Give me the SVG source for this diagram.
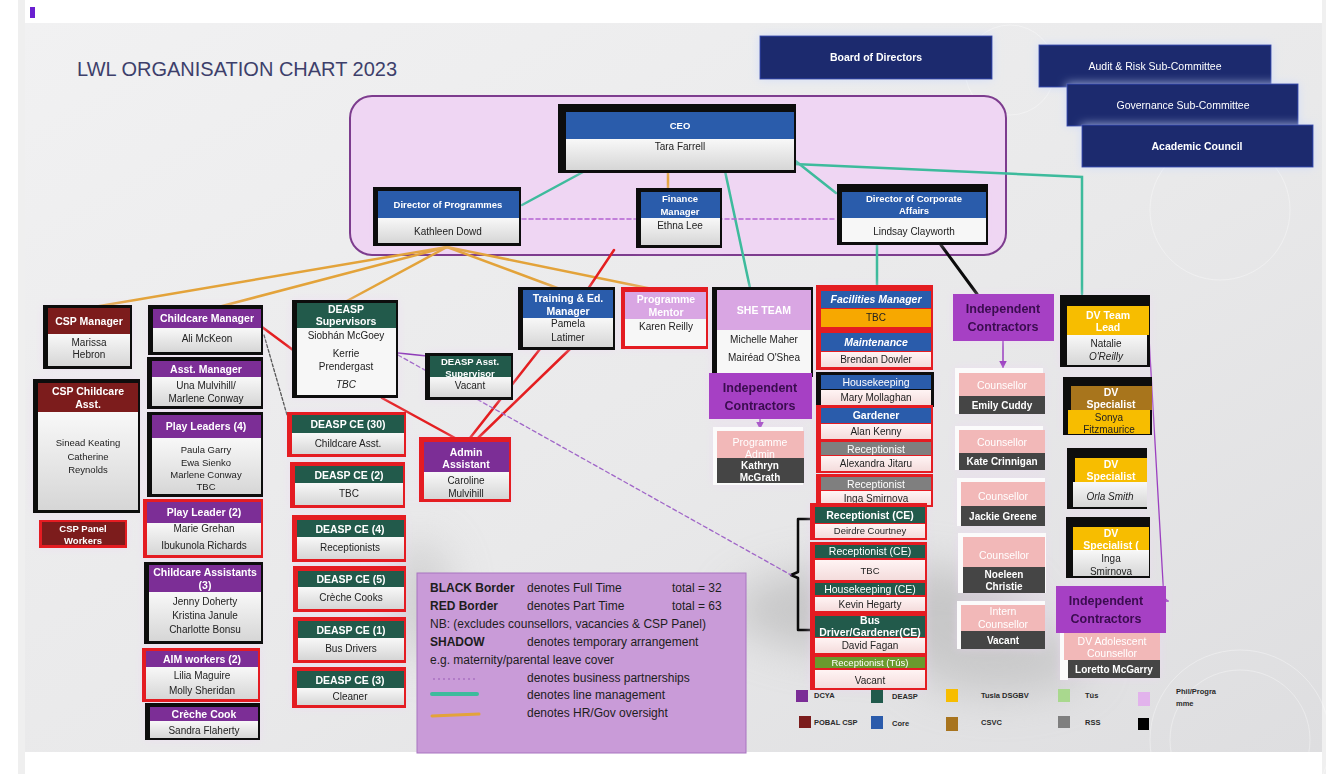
<svg xmlns="http://www.w3.org/2000/svg" width="1339" height="774" viewBox="0 0 1339 774">
<defs>
<linearGradient id="slideG" x1="0" y1="0" x2="1" y2="1"><stop offset="0" stop-color="#f1f1f2"/><stop offset="0.55" stop-color="#e9e9ea"/><stop offset="1" stop-color="#dedee0"/></linearGradient>
<linearGradient id="bodyG" x1="0" y1="0" x2="0" y2="1"><stop offset="0" stop-color="#f8f8f8"/><stop offset="1" stop-color="#d6d6d6"/></linearGradient>
<linearGradient id="pinkG" x1="0" y1="0" x2="0" y2="1"><stop offset="0" stop-color="#fff4f4"/><stop offset="1" stop-color="#f4dcdc"/></linearGradient>
<filter id="glow" x="-5%" y="-5%" width="110%" height="110%"><feGaussianBlur in="SourceAlpha" stdDeviation="4"/><feColorMatrix values="0 0 0 0 0.86 0 0 0 0 0.66 0 0 0 0 0.92 0 0 0 0.5 0"/><feMerge><feMergeNode/><feMergeNode in="SourceGraphic"/></feMerge></filter>
<filter id="blueGlow" x="-10%" y="-25%" width="120%" height="150%"><feGaussianBlur in="SourceAlpha" stdDeviation="5"/><feColorMatrix values="0 0 0 0 0.6 0 0 0 0 0.7 0 0 0 0 0.97 0 0 0 0.8 0"/><feMerge><feMergeNode/><feMergeNode in="SourceGraphic"/></feMerge></filter>
<filter id="haze" x="-50%" y="-50%" width="200%" height="200%"><feGaussianBlur stdDeviation="22"/></filter>
<marker id="ah" viewBox="0 0 10 10" refX="8" refY="5" markerWidth="5" markerHeight="5" orient="auto"><path d="M0,0L10,5L0,10z" fill="#9b3fc0"/></marker>
<style>
.hw{font-family:"Liberation Sans",Arial,sans-serif;font-weight:bold;font-size:10.5px;fill:#fff;text-anchor:middle}
.hs{font-family:"Liberation Sans",Arial,sans-serif;font-weight:bold;font-size:9.5px;fill:#fff;text-anchor:middle}
.hb{font-family:"Liberation Sans",Arial,sans-serif;font-weight:bold;font-size:10.5px;fill:#fff;text-anchor:middle}
.nm{font-family:"Liberation Sans",Arial,sans-serif;font-size:10px;fill:#222;text-anchor:middle}
.ns{font-family:"Liberation Sans",Arial,sans-serif;font-size:9.5px;fill:#222;text-anchor:middle}
.nw{font-family:"Liberation Sans",Arial,sans-serif;font-weight:bold;font-size:10px;fill:#fff;text-anchor:middle}
.ic{font-family:"Liberation Sans",Arial,sans-serif;font-weight:bold;font-size:12.5px;fill:#3a0c4f;text-anchor:middle}
.bd{font-family:"Liberation Sans",Arial,sans-serif;font-size:10.5px;fill:#fff;text-anchor:middle}
.bs{font-family:"Liberation Sans",Arial,sans-serif;font-size:9.5px;fill:#fff;text-anchor:middle}
.lg{font-family:"Liberation Sans",Arial,sans-serif;font-size:12px;fill:#1d1d1d}
.lb{font-family:"Liberation Sans",Arial,sans-serif;font-size:12px;font-weight:bold;fill:#1d1d1d}
.ck{font-family:"Liberation Sans",Arial,sans-serif;font-size:7.5px;font-weight:bold;fill:#2a2a2a}
.bk{fill:#0b0b0b}
.rd{fill:#e41e20}
.gb{fill:url(#bodyG)}
.pb{fill:url(#pinkG)}
.wb{fill:#f7f7f7}
.cblue{fill:#2b5bab}
.cpur{fill:#7b2d96}
.cred{fill:#7b1c1c}
.cgrn{fill:#215a4c}
.cyel{fill:#f7bd00}
.cpink{fill:#f2b8b8}
.cdark{fill:#454545}
.cic{fill:#a640c4}
.board{fill:#1c2a6e;stroke:#2e45b0;stroke-width:1}
.it{font-style:italic}
</style>
</defs>

<!-- page and slide background -->
<rect width="1339" height="774" fill="#ffffff"/>
<rect x="18" y="0" width="7" height="774" fill="#efefef"/>
<rect x="1322" y="0" width="4" height="774" fill="#f0f0f0"/>
<rect x="30" y="7" width="5" height="11" fill="#6a1fd0"/>
<rect x="25" y="23" width="1297" height="729" fill="url(#slideG)"/>
<g filter="url(#haze)" opacity="0.5">
<ellipse cx="880" cy="610" rx="150" ry="45" fill="#a9a9a9"/>
<ellipse cx="1000" cy="660" rx="90" ry="35" fill="#b0b0b0"/>
<ellipse cx="420" cy="600" rx="30" ry="60" fill="#b5b5b5"/>
</g>
<g fill="none" stroke="#ffffff" stroke-opacity="0.35" stroke-width="1">
<circle cx="1240" cy="740" r="70"/>
<circle cx="1240" cy="740" r="90"/>
<circle cx="1010" cy="70" r="45"/>
<circle cx="1220" cy="210" r="70"/>
</g>

<text x="77" y="76" font-family="'Liberation Sans',Arial,sans-serif" font-size="20" fill="#3d3f6b">LWL ORGANISATION CHART 2023</text>

<!-- senior management container -->
<rect x="350" y="96" width="656" height="159" rx="22" fill="#efd6f3" stroke="#7d3c8e" stroke-width="2"/>

<!-- governance boxes -->
<g id="board" filter="url(#blueGlow)"><rect class="board" x="760" y="36" width="232" height="43"/><text class="hb" x="876" y="61">Board of Directors</text></g>
<g id="audit" filter="url(#blueGlow)"><rect class="board" x="1039" y="45" width="232" height="42"/><text class="bd" x="1155" y="70">Audit &amp; Risk Sub-Committee</text></g>
<g id="governance" filter="url(#blueGlow)"><rect class="board" x="1067" y="84" width="231" height="42"/><text class="bd" x="1183" y="109">Governance Sub-Committee</text></g>
<g id="academic" filter="url(#blueGlow)"><rect class="board" x="1082" y="125" width="231" height="42"/><text class="hw" x="1197" y="150">Academic Council</text></g>

<!-- connectors -->
<g id="connectors" fill="none" stroke-linecap="round">
<!-- line management -->
<g stroke="#3dbb9c" stroke-width="2.5">
<line x1="583" y1="172" x2="522" y2="205"/>
<line x1="793" y1="159" x2="836" y2="193"/>
<line x1="725" y1="171" x2="750" y2="288"/>
<polyline points="794,164 1082,177 1082,294"/>
<line x1="877" y1="244" x2="877" y2="290"/>
</g>
<!-- HR / governance oversight -->
<g stroke="#e3a33a" stroke-width="2.5">
<line x1="668" y1="172" x2="668" y2="192"/>
<line x1="447" y1="247" x2="88" y2="308"/>
<line x1="447" y1="247" x2="207" y2="310"/>
<line x1="447" y1="247" x2="345" y2="302"/>
<line x1="447" y1="247" x2="568" y2="292"/>
<line x1="447" y1="247" x2="667" y2="292"/>
</g>
<!-- part-time reporting -->
<g stroke="#e41e20" stroke-width="2.5">
<line x1="614" y1="250" x2="588" y2="289"/>
<line x1="540" y1="349" x2="470" y2="438"/>
<line x1="570" y1="349" x2="478" y2="438"/>
<line x1="382" y1="398" x2="455" y2="438"/>
<line x1="262" y1="327" x2="293" y2="350"/>
</g>
<line x1="941" y1="245" x2="977" y2="294" stroke="#0b0b0b" stroke-width="3"/>
<path d="M811,519 H798 V572 L791,575 L798,578 V630 H811" stroke="#0b0b0b" stroke-width="2.5" stroke-linejoin="round"/>
<!-- business partnerships -->
<line x1="522" y1="219" x2="836" y2="219" stroke="#b463d2" stroke-width="1.6" stroke-dasharray="4,3"/>
<line x1="398" y1="355" x2="791" y2="575" stroke="#a066c8" stroke-width="1.3" stroke-dasharray="4,3"/>
<line x1="264" y1="335" x2="287" y2="415" stroke="#555" stroke-width="1.3" stroke-dasharray="3,2"/>
<line x1="398" y1="353" x2="427" y2="356" stroke="#8e3ab8" stroke-width="1.5"/>
<!-- contractor links -->
<line x1="760" y1="419" x2="760" y2="428" stroke="#9b3fc0" stroke-width="1.5" marker-end="url(#ah)"/>
<line x1="1003" y1="341" x2="1003" y2="367" stroke="#9b3fc0" stroke-width="1.5" marker-end="url(#ah)"/>
<path d="M1149,337 L1164,600 L1168,601" stroke="#9b3fc0" stroke-width="1.3" marker-end="url(#ah)"/>
</g>

<!-- nodes -->
<g id="nodes" filter="url(#glow)">

<g id="ceo"><rect class="bk" x="558" y="104" width="238" height="69"/><rect class="cblue" x="566" y="112" width="228" height="27"/><rect class="gb" x="566" y="139" width="228" height="31"/><text class="hs" x="680" y="129">CEO</text><text class="nm" x="680" y="150">Tara Farrell</text></g>

<g id="dir-programmes"><rect class="bk" x="373" y="187" width="148" height="59"/><rect class="cblue" x="378" y="191" width="141" height="27"/><rect class="gb" x="378" y="218" width="141" height="25"/><text class="hs" x="448" y="208">Director of Programmes</text><text class="nm" x="448" y="235">Kathleen Dowd</text></g>

<g id="finance"><rect class="bk" x="636" y="188" width="86" height="60"/><rect class="cblue" x="641" y="192" width="79" height="26"/><rect class="gb" x="641" y="218" width="79" height="27"/><text class="hs" x="680" y="202">Finance</text><text class="hs" x="680" y="215">Manager</text><text class="nm" x="680" y="229">Ethna Lee</text></g>

<g id="dir-corporate"><rect class="bk" x="837" y="184" width="151" height="61"/><rect class="cblue" x="842" y="192" width="144" height="26"/><rect class="wb" x="842" y="218" width="144" height="24"/><text class="hs" x="914" y="202">Director of Corporate</text><text class="hs" x="914" y="214">Affairs</text><text class="nm" x="914" y="235">Lindsay Clayworth</text></g>

<!-- childcare / CSP -->
<g id="csp-manager"><rect class="bk" x="43" y="305" width="89" height="64"/><rect class="cred" x="48" y="308" width="82" height="26"/><rect class="gb" x="48" y="334" width="82" height="32"/><text class="hw" x="89" y="325">CSP Manager</text><text class="nm" x="89" y="346">Marissa</text><text class="nm" x="89" y="358">Hebron</text></g>

<g id="csp-childcare-asst"><rect class="bk" x="33" y="379" width="107" height="134"/><rect class="cred" x="38" y="383" width="100" height="29"/><rect class="gb" x="38" y="412" width="100" height="98"/><text class="hw" x="88" y="395">CSP Childcare</text><text class="hw" x="88" y="408">Asst.</text><text class="ns" x="88" y="446">Sinead Keating</text><text class="ns" x="88" y="460">Catherine</text><text class="ns" x="88" y="473">Reynolds</text></g>

<g id="csp-panel"><rect class="rd" x="39" y="520" width="88" height="28"/><rect class="cred" x="42" y="522" width="83" height="23"/><text class="hs" x="83" y="532">CSP Panel</text><text class="hs" x="83" y="544">Workers</text></g>

<g id="childcare-manager"><rect class="bk" x="148" y="305" width="115" height="50"/><rect class="cpur" x="153" y="309" width="108" height="19"/><rect class="gb" x="153" y="328" width="108" height="24"/><text class="hw" x="207" y="322">Childcare Manager</text><text class="nm" x="207" y="342">Ali McKeon</text></g>

<g id="asst-manager"><rect class="bk" x="147" y="357" width="116" height="52"/><rect class="cpur" x="152" y="361" width="109" height="16"/><rect class="gb" x="152" y="377" width="109" height="29"/><text class="hw" x="206" y="373">Asst. Manager</text><text class="nm" x="206" y="389">Una Mulvihill/</text><text class="nm" x="206" y="402">Marlene Conway</text></g>

<g id="play-leaders-4"><rect class="bk" x="147" y="412" width="116" height="85"/><rect class="cpur" x="152" y="415" width="109" height="23"/><rect class="gb" x="152" y="438" width="109" height="56"/><text class="hw" x="206" y="430">Play Leaders (4)</text><text class="ns" x="206" y="453">Paula Garry</text><text class="ns" x="206" y="466">Ewa Sienko</text><text class="ns" x="206" y="478">Marlene Conway</text><text class="ns" x="206" y="490">TBC</text></g>

<g id="play-leader-2"><rect class="rd" x="143" y="499" width="120" height="59"/><rect class="cpur" x="147" y="502" width="114" height="21"/><rect class="gb" x="147" y="523" width="114" height="32"/><text class="hw" x="204" y="516">Play Leader (2)</text><text class="nm" x="204" y="532">Marie Grehan</text><text class="nm" x="204" y="549">Ibukunola Richards</text></g>

<g id="childcare-assistants"><rect class="bk" x="144" y="562" width="119" height="82"/><rect class="cpur" x="149" y="565" width="112" height="27"/><rect class="gb" x="149" y="592" width="112" height="49"/><text class="hw" x="205" y="576">Childcare Assistants</text><text class="hw" x="205" y="589">(3)</text><text class="nm" x="205" y="605">Jenny Doherty</text><text class="nm" x="205" y="619">Kristina Janule</text><text class="nm" x="205" y="633">Charlotte Bonsu</text></g>

<g id="aim-workers"><rect class="rd" x="142" y="648" width="118" height="54"/><rect class="cpur" x="146" y="651" width="112" height="16"/><rect class="gb" x="146" y="667" width="112" height="32"/><text class="hw" x="202" y="663">AIM workers (2)</text><text class="nm" x="202" y="679">Lilia Maguire</text><text class="nm" x="202" y="694">Molly Sheridan</text></g>

<g id="creche-cook"><rect class="bk" x="145" y="703" width="115" height="37"/><rect class="cpur" x="150" y="707" width="108" height="14"/><rect class="gb" x="150" y="721" width="108" height="17"/><text class="hw" x="204" y="718">Crèche Cook</text><text class="nm" x="204" y="734">Sandra Flaherty</text></g>

<!-- DEASP -->
<g id="deasp-supervisors"><rect class="bk" x="292" y="300" width="106" height="98"/><rect class="cgrn" x="297" y="303" width="99" height="25"/><rect class="wb" x="297" y="328" width="99" height="67"/><text class="hw" x="346" y="313">DEASP</text><text class="hw" x="346" y="325">Supervisors</text><text class="nm" x="346" y="339">Siobhán McGoey</text><text class="nm" x="346" y="357">Kerrie</text><text class="nm" x="346" y="370">Prendergast</text><text class="nm it" x="346" y="388">TBC</text></g>

<g id="deasp-asst-supervisor"><rect class="bk" x="425" y="353" width="88" height="47"/><rect class="cgrn" x="430" y="356" width="81" height="21"/><rect class="gb" x="430" y="377" width="81" height="20"/><text class="hs" x="470" y="365">DEASP Asst.</text><text class="hs" x="470" y="377">Supervisor</text><text class="nm" x="470" y="389">Vacant</text></g>

<g id="deasp-ce-30"><rect class="rd" x="287" y="412" width="119" height="45"/><rect class="cgrn" x="292" y="415" width="112" height="18"/><rect class="gb" x="292" y="433" width="112" height="21"/><text class="hw" x="348" y="428">DEASP CE (30)</text><text class="nm" x="348" y="447">Childcare Asst.</text></g>

<g id="deasp-ce-2"><rect class="rd" x="290" y="462" width="115" height="46"/><rect class="cgrn" x="295" y="466" width="108" height="17"/><rect class="gb" x="295" y="483" width="108" height="22"/><text class="hw" x="349" y="479">DEASP CE (2)</text><text class="nm" x="349" y="497">TBC</text></g>

<g id="deasp-ce-4"><rect class="rd" x="292" y="515" width="114" height="47"/><rect class="cgrn" x="297" y="520" width="107" height="17"/><rect class="gb" x="297" y="537" width="107" height="22"/><text class="hw" x="350" y="533">DEASP CE (4)</text><text class="nm" x="350" y="551">Receptionists</text></g>

<g id="deasp-ce-5"><rect class="rd" x="293" y="566" width="113" height="46"/><rect class="cgrn" x="298" y="571" width="106" height="16"/><rect class="gb" x="298" y="587" width="106" height="22"/><text class="hw" x="351" y="583">DEASP CE (5)</text><text class="nm" x="351" y="601">Crèche Cooks</text></g>

<g id="deasp-ce-1"><rect class="rd" x="293" y="617" width="113" height="46"/><rect class="cgrn" x="298" y="621" width="106" height="17"/><rect class="gb" x="298" y="638" width="106" height="22"/><text class="hw" x="351" y="634">DEASP CE (1)</text><text class="nm" x="351" y="652">Bus Drivers</text></g>

<g id="deasp-ce-3"><rect class="rd" x="292" y="667" width="114" height="41"/><rect class="cgrn" x="297" y="671" width="107" height="17"/><rect class="gb" x="297" y="688" width="107" height="17"/><text class="hw" x="350" y="684">DEASP CE (3)</text><text class="nm" x="350" y="700">Cleaner</text></g>

<g id="admin-assistant"><rect class="rd" x="419" y="437" width="92" height="65"/><rect class="cpur" x="424" y="442" width="85" height="30"/><rect class="gb" x="424" y="472" width="85" height="27"/><text class="hw" x="466" y="456">Admin</text><text class="hw" x="466" y="468">Assistant</text><text class="nm" x="466" y="484">Caroline</text><text class="nm" x="466" y="497">Mulvihill</text></g>

<!-- programmes -->
<g id="training-manager"><rect class="bk" x="518" y="287" width="97" height="63"/><rect class="cblue" x="523" y="290" width="90" height="28"/><rect class="gb" x="523" y="318" width="90" height="29"/><text class="hw" x="568" y="302">Training &amp; Ed.</text><text class="hw" x="568" y="315">Manager</text><text class="nm" x="568" y="327">Pamela</text><text class="nm" x="568" y="341">Latimer</text></g>

<g id="programme-mentor"><rect class="rd" x="621" y="287" width="87" height="62"/><rect fill="#d9a6e3" x="625" y="292" width="81" height="27"/><rect class="wb" x="625" y="319" width="81" height="27"/><text class="hw" x="666" y="303">Programme</text><text class="hw" x="666" y="316">Mentor</text><text class="nm" x="666" y="330">Karen Reilly</text></g>

<g id="she-team"><rect class="bk" x="712" y="287" width="101" height="90"/><rect fill="#d9a6e3" x="717" y="290" width="94" height="40"/><rect class="wb" x="717" y="330" width="94" height="44"/><text class="hw" x="764" y="314">SHE TEAM</text><text class="nm" x="764" y="343">Michelle Maher</text><text class="nm" x="764" y="361">Mairéad O'Shea</text></g>

<g id="contractors-programmes"><rect class="cic" x="709" y="373" width="103" height="46"/><text class="ic" x="760" y="392">Independent</text><text class="ic" x="760" y="410">Contractors</text></g>

<g id="programme-admin"><rect fill="#fbfbfb" x="713" y="427" width="90" height="58"/><rect class="cpink" x="717" y="431" width="87" height="27"/><rect class="cdark" x="717" y="458" width="87" height="25"/><text class="bd" x="760" y="446">Programme</text><text class="bd" x="760" y="458">Admin</text><text class="nw" x="760" y="469">Kathryn</text><text class="nw" x="760" y="481">McGrath</text></g>

<!-- facilities -->
<g id="facilities-manager"><rect class="rd" x="816" y="285" width="117" height="45"/><rect class="cblue" x="821" y="291" width="110" height="17"/><rect fill="#f7a800" x="821" y="309" width="110" height="18"/><text class="hw it" x="876" y="303">Facilities Manager</text><text class="nm" x="876" y="321">TBC</text></g>

<g id="maintenance"><rect class="rd" x="816" y="330" width="117" height="40"/><rect class="cblue" x="821" y="333" width="110" height="18"/><rect class="pb" x="821" y="352" width="110" height="15"/><text class="hw it" x="876" y="346">Maintenance</text><text class="nm" x="876" y="363">Brendan Dowler</text></g>

<g id="housekeeping"><rect class="bk" x="816" y="372" width="118" height="35"/><rect class="cblue" x="821" y="375" width="110" height="14"/><rect class="pb" x="821" y="390" width="110" height="15"/><text class="bd" x="876" y="386">Housekeeping</text><text class="nm" x="876" y="401">Mary Mollaghan</text></g>

<g id="gardener"><rect class="rd" x="816" y="405" width="117" height="36"/><rect class="cblue" x="821" y="408" width="110" height="15"/><rect class="pb" x="821" y="424" width="110" height="15"/><text class="hw" x="876" y="419">Gardener</text><text class="nm" x="876" y="435">Alan Kenny</text></g>

<g id="receptionist-1"><rect class="rd" x="816" y="440" width="117" height="33"/><rect fill="#7f7f7f" x="821" y="442" width="110" height="13"/><rect class="pb" x="821" y="456" width="110" height="15"/><text class="bd" x="876" y="453">Receptionist</text><text class="nm" x="876" y="467">Alexandra Jitaru</text></g>

<g id="receptionist-2"><rect class="rd" x="816" y="474" width="117" height="33"/><rect fill="#7f7f7f" x="821" y="477" width="110" height="13"/><rect class="pb" x="821" y="491" width="110" height="14"/><text class="bd" x="876" y="488">Receptionist</text><text class="nm" x="876" y="502">Inga Smirnova</text></g>

<g id="receptionist-ce-1"><rect class="rd" x="810" y="503" width="117" height="37"/><rect class="cgrn" x="815" y="507" width="110" height="16"/><rect class="pb" x="815" y="524" width="110" height="14"/><text class="hw" x="870" y="519">Receptionist (CE)</text><text class="ns" x="870" y="534">Deirdre Courtney</text></g>

<g id="receptionist-ce-2"><rect class="rd" x="810" y="542" width="117" height="40"/><rect class="cgrn" x="815" y="545" width="110" height="13"/><rect class="pb" x="815" y="560" width="110" height="20"/><text class="bd" x="870" y="555">Receptionist (CE)</text><text class="ns" x="870" y="574">TBC</text></g>

<g id="housekeeping-ce"><rect class="rd" x="810" y="581" width="117" height="32"/><rect class="cgrn" x="815" y="583" width="110" height="12"/><rect class="pb" x="815" y="597" width="110" height="14"/><text class="bd" x="870" y="593">Housekeeping (CE)</text><text class="nm" x="870" y="608">Kevin Hegarty</text></g>

<g id="bus-driver-ce"><rect class="rd" x="810" y="613" width="117" height="42"/><rect class="cgrn" x="815" y="616" width="110" height="21"/><rect class="pb" x="815" y="638" width="110" height="15"/><text class="hw" x="870" y="624">Bus</text><text class="hw" x="870" y="636">Driver/Gardener(CE)</text><text class="nm" x="870" y="649">David Fagan</text></g>

<g id="receptionist-tus"><rect class="rd" x="810" y="655" width="117" height="35"/><rect fill="#6b9a2e" x="815" y="657" width="110" height="11"/><rect class="pb" x="815" y="670" width="110" height="18"/><text class="bs" x="870" y="666">Receptionist (Tús)</text><text class="nm" x="870" y="684">Vacant</text></g>

<!-- counselling -->
<g id="contractors-counselling"><rect class="cic" x="953" y="294" width="101" height="47"/><text class="ic" x="1003" y="313">Independent</text><text class="ic" x="1003" y="331">Contractors</text></g>

<g id="counsellor-cuddy"><rect fill="#fbfbfb" x="955" y="368" width="88" height="46"/><rect class="cpink" x="959" y="373" width="86" height="23"/><rect class="cdark" x="959" y="396" width="86" height="18"/><text class="bd" x="1002" y="389">Counsellor</text><text class="nw" x="1002" y="409">Emily Cuddy</text></g>

<g id="counsellor-crinnigan"><rect fill="#fbfbfb" x="955" y="426" width="88" height="44"/><rect class="cpink" x="959" y="430" width="86" height="23"/><rect class="cdark" x="959" y="453" width="86" height="17"/><text class="bd" x="1002" y="446">Counsellor</text><text class="nw" x="1002" y="465">Kate Crinnigan</text></g>

<g id="counsellor-greene"><rect fill="#fbfbfb" x="957" y="478" width="88" height="48"/><rect class="cpink" x="961" y="482" width="84" height="24"/><rect class="cdark" x="961" y="506" width="84" height="20"/><text class="bd" x="1003" y="500">Counsellor</text><text class="nw" x="1003" y="520">Jackie Greene</text></g>

<g id="counsellor-christie"><rect fill="#fbfbfb" x="958" y="533" width="88" height="60"/><rect class="cpink" x="963" y="537" width="82" height="30"/><rect class="cdark" x="963" y="567" width="82" height="26"/><text class="bd" x="1004" y="559">Counsellor</text><text class="nw" x="1004" y="578">Noeleen</text><text class="nw" x="1004" y="590">Christie</text></g>

<g id="intern-counsellor"><rect fill="#fbfbfb" x="957" y="601" width="88" height="48"/><rect class="cpink" x="961" y="605" width="84" height="26"/><rect class="cdark" x="961" y="631" width="84" height="18"/><text class="bd" x="1003" y="615">Intern</text><text class="bd" x="1003" y="628">Counsellor</text><text class="nw" x="1003" y="644">Vacant</text></g>

<!-- DSGBV -->
<g id="dv-team-lead"><rect class="bk" x="1060" y="295" width="90" height="72"/><rect class="cyel" x="1067" y="306" width="82" height="29"/><rect class="gb" x="1067" y="335" width="80" height="30"/><text class="hw" x="1108" y="319">DV Team</text><text class="hw" x="1108" y="331">Lead</text><text class="nm" x="1106" y="347">Natalie</text><text class="nm it" x="1106" y="360">O'Reilly</text></g>

<g id="dv-specialist-1"><rect class="bk" x="1063" y="377" width="89" height="58"/><rect fill="#a8741e" x="1071" y="386" width="81" height="24"/><rect class="cyel" x="1068" y="410" width="82" height="24"/><text class="hw" x="1111" y="396">DV</text><text class="hw" x="1111" y="408">Specialist</text><text class="nm" x="1109" y="421">Sonya</text><text class="nm" x="1109" y="433">Fitzmaurice</text></g>

<g id="dv-specialist-2"><rect class="bk" x="1067" y="448" width="80" height="61"/><rect class="cyel" x="1075" y="458" width="72" height="24"/><rect class="gb" x="1073" y="482" width="74" height="25"/><text class="hw" x="1111" y="468">DV</text><text class="hw" x="1111" y="480">Specialist</text><text class="nm it" x="1110" y="500">Orla Smith</text></g>

<g id="dv-specialist-3"><rect class="bk" x="1066" y="517" width="84" height="61"/><rect class="cyel" x="1073" y="527" width="76" height="23"/><rect class="gb" x="1073" y="550" width="76" height="26"/><text class="hw" x="1111" y="537">DV</text><text class="hw" x="1111" y="549">Specialist (</text><text class="nm" x="1111" y="562">Inga</text><text class="nm" x="1111" y="575">Smirnova</text></g>

<g id="dv-adolescent-counsellor"><rect fill="#fbfbfb" x="1060" y="630" width="8" height="50"/><rect class="cpink" x="1064" y="633" width="96" height="27"/><rect class="cdark" x="1068" y="660" width="92" height="18"/><text class="bd" x="1112" y="645">DV Adolescent</text><text class="bd" x="1112" y="657">Counsellor</text><text class="nw" x="1114" y="673">Loretto McGarry</text></g>

<g id="contractors-dv"><rect class="cic" x="1056" y="586" width="110" height="47"/><text class="ic" x="1106" y="605">Independent</text><text class="ic" x="1106" y="623">Contractors</text></g>
</g>

<!-- key -->
<g id="legend">
<rect x="417" y="573" width="329" height="180" fill="#c99bd8" stroke="#a874c0" stroke-width="1"/>
<text class="lb" x="430" y="592">BLACK Border</text><text class="lg" x="527" y="592">denotes Full Time</text><text class="lg" x="672" y="592">total = 32</text>
<text class="lb" x="430" y="610">RED Border</text><text class="lg" x="527" y="610">denotes Part Time</text><text class="lg" x="672" y="610">total = 63</text>
<text class="lg" x="430" y="628">NB: (excludes counsellors, vacancies &amp; CSP Panel)</text>
<text class="lb" x="430" y="646">SHADOW</text><text class="lg" x="527" y="646">denotes temporary arrangement</text>
<text class="lg" x="430" y="664">e.g. maternity/parental leave cover</text>
<line x1="433" y1="679" x2="476" y2="679" stroke="#9a5cb6" stroke-width="1.2" stroke-dasharray="2,3"/>
<text class="lg" x="527" y="682">denotes business partnerships</text>
<line x1="432" y1="694" x2="477" y2="694" stroke="#3dbb9c" stroke-width="4" stroke-linecap="round"/>
<text class="lg" x="527" y="699">denotes line management</text>
<line x1="432" y1="716" x2="479" y2="714" stroke="#e3a33a" stroke-width="3" stroke-linecap="round"/>
<text class="lg" x="527" y="717">denotes HR/Gov oversight</text>
</g>

<!-- funder colour key -->
<g id="colour-key">
<rect x="796" y="690" width="12" height="12" fill="#7b2d96"/><text class="ck" x="814" y="698">DCYA</text>
<rect x="871" y="690" width="12" height="13" fill="#215a4c"/><text class="ck" x="892" y="699">DEASP</text>
<rect x="946" y="689" width="12" height="13" fill="#f7bd00"/><text class="ck" x="981" y="698">Tusla DSGBV</text>
<rect x="1058" y="689" width="12" height="13" fill="#a9d88e"/><text class="ck" x="1085" y="698">Tús</text>
<rect x="1138" y="692" width="12" height="14" fill="#e2b3ec"/><text class="ck" x="1176" y="694">Phil/Progra</text><text class="ck" x="1176" y="706">mme</text>
<rect x="799" y="716" width="12" height="12" fill="#7b1c1c"/><text class="ck" x="814" y="725">POBAL CSP</text>
<rect x="871" y="716" width="12" height="13" fill="#2b5bab"/><text class="ck" x="892" y="726">Core</text>
<rect x="946" y="717" width="12" height="14" fill="#a8741e"/><text class="ck" x="981" y="725">CSVC</text>
<rect x="1058" y="716" width="12" height="12" fill="#7f7f7f"/><text class="ck" x="1085" y="725">RSS</text>
<rect x="1138" y="718" width="11" height="12" fill="#000"/>
</g>
</svg>
